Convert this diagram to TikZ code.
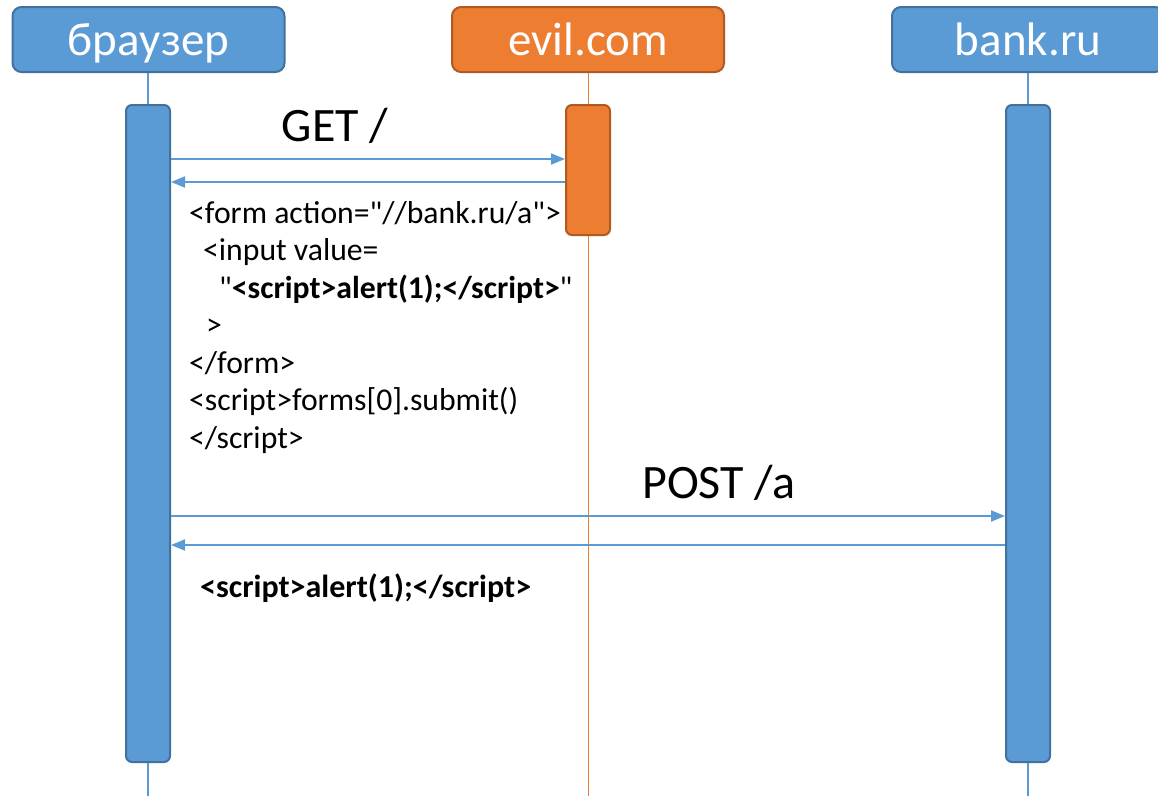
\documentclass[tikz,border=0pt]{standalone}
\usepackage{fontspec}
\setmainfont{Carlito}[Ligatures=TeXOff]
\usetikzlibrary{arrows.meta}
\definecolor{blueF}{HTML}{5B9BD5}
\definecolor{blueD}{HTML}{41719C}
\definecolor{orangeF}{HTML}{ED7D31}
\definecolor{orangeD}{HTML}{AE5A21}
\tikzset{
  head/.style={draw, line width=2pt, rounded corners=9pt, minimum width=272pt, minimum height=65pt, inner sep=0pt},
  headtext/.style={text=white, font=\fontsize{47}{56}\selectfont, anchor=base, inner sep=0pt},
  act/.style={draw, line width=2pt, rounded corners=6pt, minimum width=44pt, inner sep=0pt},
  msg/.style={draw=blueF, line width=2pt, -{Triangle[length=14pt,width=11pt]}},
  lbl/.style={font=\fontsize{48}{56}\selectfont, anchor=base, inner sep=0pt},
  code/.style={font=\fontsize{31.7}{38}\selectfont, anchor=base west, inner sep=0pt},
}
\begin{document}
\begin{tikzpicture}[x=1pt,y=-1pt]
\useasboundingbox (0,0) rectangle (1158,796);
\clip (0,0) rectangle (1158,796);

% lifelines
\draw[blueF, line width=2pt] (148,72) -- (148,796);
\draw[orangeF, line width=1pt] (588,72) -- (588,796);
\draw[blueF, line width=2pt] (1028,72) -- (1028,796);

% activation bars
\node[act, fill=blueF, draw=blueD, minimum height=657pt] (abr) at (148,433.5) {};
\node[act, fill=orangeF, draw=orangeD, minimum height=130pt] (aev) at (588,170) {};
\node[act, fill=blueF, draw=blueD, minimum height=657pt] (abk) at (1028,433.5) {};

% participants
\node[head, fill=blueF, draw=blueD] (hbr) at (148.5,39.5) {};
\node[headtext] (tbr) at (148.5,55) {браузер};
\node[head, fill=orangeF, draw=orangeD] (hev) at (588,39.5) {};
\node[headtext] (tev) at (588,55) {evil.com};
\node[head, fill=blueF, draw=blueD] (hbk) at (1028,39.5) {};
\node[headtext] (tbk) at (1028,55) {bank.ru};

% messages
\coordinate (g1) at (abr.east |- 0,159);
\coordinate (g2) at (aev.west |- 0,159);
\coordinate (r1) at (aev.west |- 0,182);
\coordinate (r2) at (abr.east |- 0,182);
\coordinate (p1) at (abr.east |- 0,516);
\coordinate (p2) at (abk.west |- 0,516);
\coordinate (q1) at (abk.west |- 0,545);
\coordinate (q2) at (abr.east |- 0,545);
\draw[msg] (g1) -- (g2);
\draw[msg] (r1) -- (r2);
\draw[msg] (p1) -- (p2);
\draw[msg] (q1) -- (q2);

\node[lbl] (lget) at (335,141) {GET /};
\node[lbl] (lpost) at (719,498) {POST /a};

% response body from evil.com
\node[code] (c1) at (189,223) {<form action="//bank.ru/a">};
\node[code] (c2) at (203,260.5) {<input value=};
\node[code] (c3) at (219,298) {"\textbf{<script>alert(1);</script>}"};
\node[code] (c4) at (206,335.5) {>};
\node[code] (c5) at (189,373) {</form>};
\node[code] (c6) at (189,410.5) {<script>forms[0].submit()};
\node[code] (c7) at (189,448) {</script>};

% response body from bank.ru
\node[code, font=\fontsize{32}{38}\selectfont\bfseries] (c8) at (200,597) {<script>alert(1);</script>};
\end{tikzpicture}
\end{document}
